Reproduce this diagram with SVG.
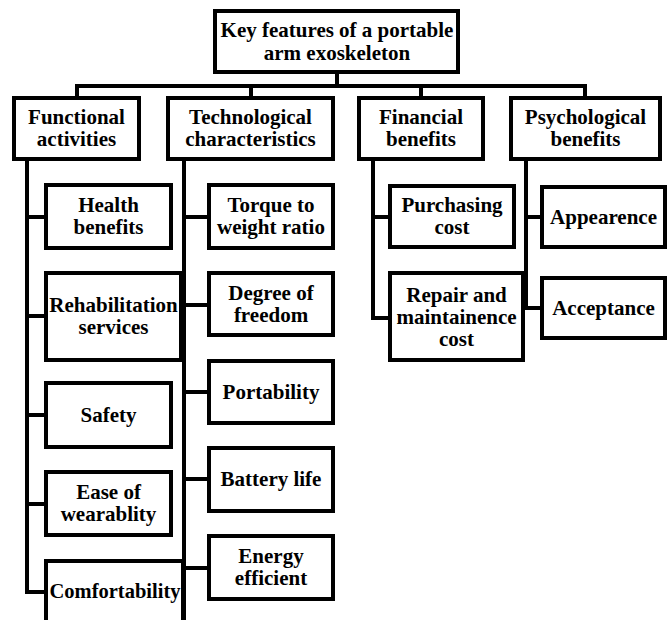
<svg xmlns="http://www.w3.org/2000/svg" width="670" height="620" viewBox="0 0 670 620">
<style>
.box{fill:#fff;stroke:#000;stroke-width:4}
.lbl{font-family:"Liberation Serif","Times New Roman",serif;font-weight:bold;font-size:21px;fill:#000;text-anchor:middle}
.conn{fill:none;stroke:#000;stroke-width:4;stroke-linecap:square}
</style>
<rect width="670" height="620" fill="#fff"/>
<g id="connectors">
<path class="conn" d="M337 72V86M77 86H585M77 86V98M251 86V98M421 86V98M585 86V98"/>
<path class="conn" d="M27 159V592M27 217H46M27 316H46M27 415H46M27 504H46M27 592H46"/>
<path class="conn" d="M184 159V620M184 217H209M184 305H209M184 392H209M184 479H209M184 568H209"/>
<path class="conn" d="M373 159V318M373 217H390M373 318H390"/>
<path class="conn" d="M526 159V308M526 217H542M526 308H542"/>
</g>
<g id="root"><rect class="box" x="215" y="11" width="243" height="61"/><text class="lbl" x="337" y="37">Key features of a portable</text><text class="lbl" x="337" y="60">arm exoskeleton</text></g>
<g id="functional"><rect class="box" x="14" y="98" width="125" height="61"/><text class="lbl" x="76.5" y="124">Functional</text><text class="lbl" x="76.5" y="146">activities</text></g>
<g id="technological"><rect class="box" x="168" y="98" width="165" height="61"/><text class="lbl" x="250.5" y="124">Technological</text><text class="lbl" x="250.5" y="146">characteristics</text></g>
<g id="financial"><rect class="box" x="359" y="98" width="124" height="61"/><text class="lbl" x="421" y="124">Financial</text><text class="lbl" x="421" y="146">benefits</text></g>
<g id="psychological"><rect class="box" x="511" y="98" width="149" height="61"/><text class="lbl" x="585.5" y="124">Psychological</text><text class="lbl" x="585.5" y="146">benefits</text></g>
<g id="health"><rect class="box" x="46" y="185" width="125" height="63"/><text class="lbl" x="108.5" y="212">Health</text><text class="lbl" x="108.5" y="234">benefits</text></g>
<g id="rehab"><rect class="box" x="46" y="273" width="135" height="87"/><text class="lbl" x="113.5" y="312">Rehabilitation</text><text class="lbl" x="113.5" y="334">services</text></g>
<g id="safety"><rect class="box" x="46" y="383" width="125" height="64"/><text class="lbl" x="108.5" y="422">Safety</text></g>
<g id="ease"><rect class="box" x="46" y="472" width="125" height="63"/><text class="lbl" x="108.5" y="499">Ease of</text><text class="lbl" x="108.5" y="521">wearablity</text></g>
<g id="comfort"><rect class="box" x="46" y="561" width="137" height="66"/><text class="lbl" x="115" y="598" style="font-size:20.5px">Comfortability</text></g>
<g id="torque"><rect class="box" x="209" y="185" width="124" height="63"/><text class="lbl" x="271" y="212">Torque to</text><text class="lbl" x="271" y="234">weight ratio</text></g>
<g id="dof"><rect class="box" x="209" y="273" width="124" height="62"/><text class="lbl" x="271" y="300">Degree of</text><text class="lbl" x="271" y="322">freedom</text></g>
<g id="portability"><rect class="box" x="209" y="361" width="124" height="62"/><text class="lbl" x="271" y="399">Portability</text></g>
<g id="battery"><rect class="box" x="209" y="448" width="124" height="63"/><text class="lbl" x="271" y="486">Battery life</text></g>
<g id="energy"><rect class="box" x="209" y="536" width="124" height="63"/><text class="lbl" x="271" y="563">Energy</text><text class="lbl" x="271" y="585">efficient</text></g>
<g id="purchasing"><rect class="box" x="390" y="186" width="124" height="61"/><text class="lbl" x="452" y="212">Purchasing</text><text class="lbl" x="452" y="234">cost</text></g>
<g id="repair"><rect class="box" x="390" y="273" width="133" height="87"/><text class="lbl" x="456.5" y="302">Repair and</text><text class="lbl" x="456.5" y="324">maintainence</text><text class="lbl" x="456.5" y="346">cost</text></g>
<g id="appearence"><rect class="box" x="542" y="187" width="123" height="60"/><text class="lbl" x="603.5" y="224">Appearence</text></g>
<g id="acceptance"><rect class="box" x="542" y="278" width="123" height="60"/><text class="lbl" x="603.5" y="315">Acceptance</text></g>
</svg>
